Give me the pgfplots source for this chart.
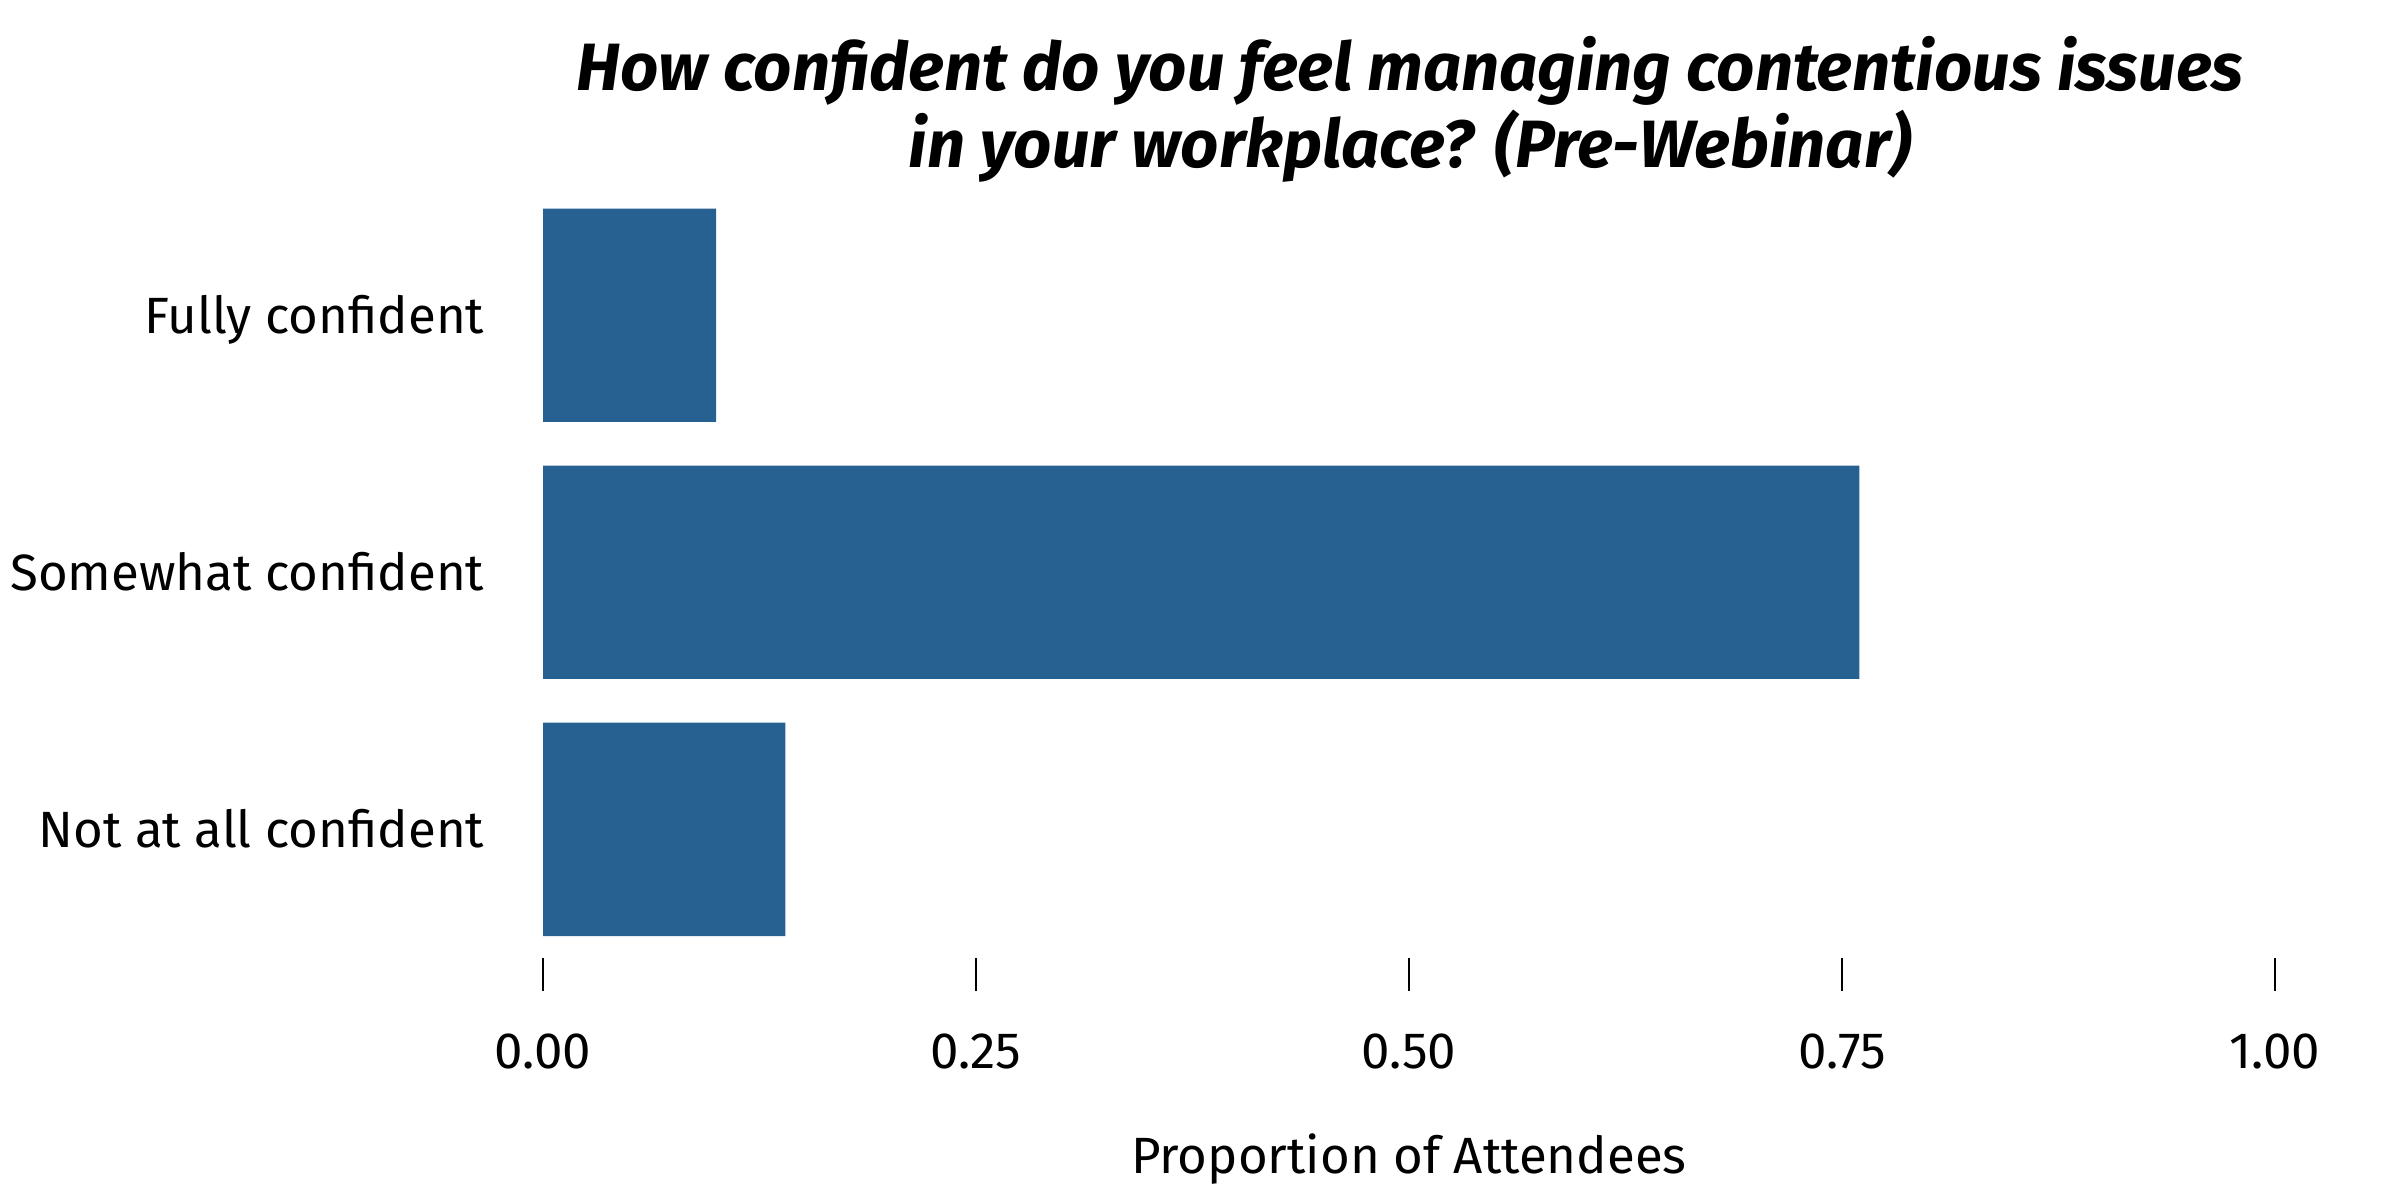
\documentclass[border=0pt]{standalone}
\usepackage{fontspec}
\setmainfont{Fira Sans}
\usepackage{pgfplots}
\pgfplotsset{compat=1.18}
\definecolor{barblue}{RGB}{39,97,145}

\begin{document}
\begin{tikzpicture}
  \begin{axis}[
      at={(181pt,80.7pt)}, anchor=south west,
      scale only axis,
      width=577.3pt, height=257.1pt,
      xmin=0, xmax=1,
      ymin=-0.5, ymax=2.5,
      clip=false,
      xbar,
      bar width=71.1pt,
      axis line style={draw=none},
      tick align=outside,
      major tick length=11pt,
      xtick pos=lower,
      xtick={0,0.25,0.5,0.75,1},
      xticklabels={0.00,0.25,0.50,0.75,1.00},
      xtick style={black, line width=0.9pt},
      xticklabel style={font=\fontsize{17}{20}\selectfont, anchor=base, yshift=-25.7pt},
      ytick={0,1,2},
      yticklabels={Not at all confident,Somewhat confident,Fully confident},
      ytick style={draw=none},
      yticklabel style={font=\fontsize{17}{20}\selectfont, anchor=base east, xshift=-5pt, yshift=-6pt},
      xlabel={Proportion of Attendees},
      xlabel style={font=\fontsize{17}{20}\selectfont, at={(axis description cs:0.5,0)}, anchor=base, yshift=-71.7pt},
    ]
    % proportions (bottom to top)
    \addplot[draw=none, fill=barblue] coordinates {
        (0.14,0)
        (0.76,1)
        (0.10,2)
      };
  \end{axis}
  \node[anchor=base, font=\fontsize{22.3}{26}\selectfont\bfseries\itshape] at (470pt,370pt) {How confident do you feel managing contentious issues};
  \node[anchor=base, font=\fontsize{22.3}{26}\selectfont\bfseries\itshape] at (470pt,344.2pt) {in your workplace? (Pre-Webinar)};
  \pgfresetboundingbox
  \path[use as bounding box] (0,0) rectangle (800pt,400pt);
\end{tikzpicture}
\end{document}
